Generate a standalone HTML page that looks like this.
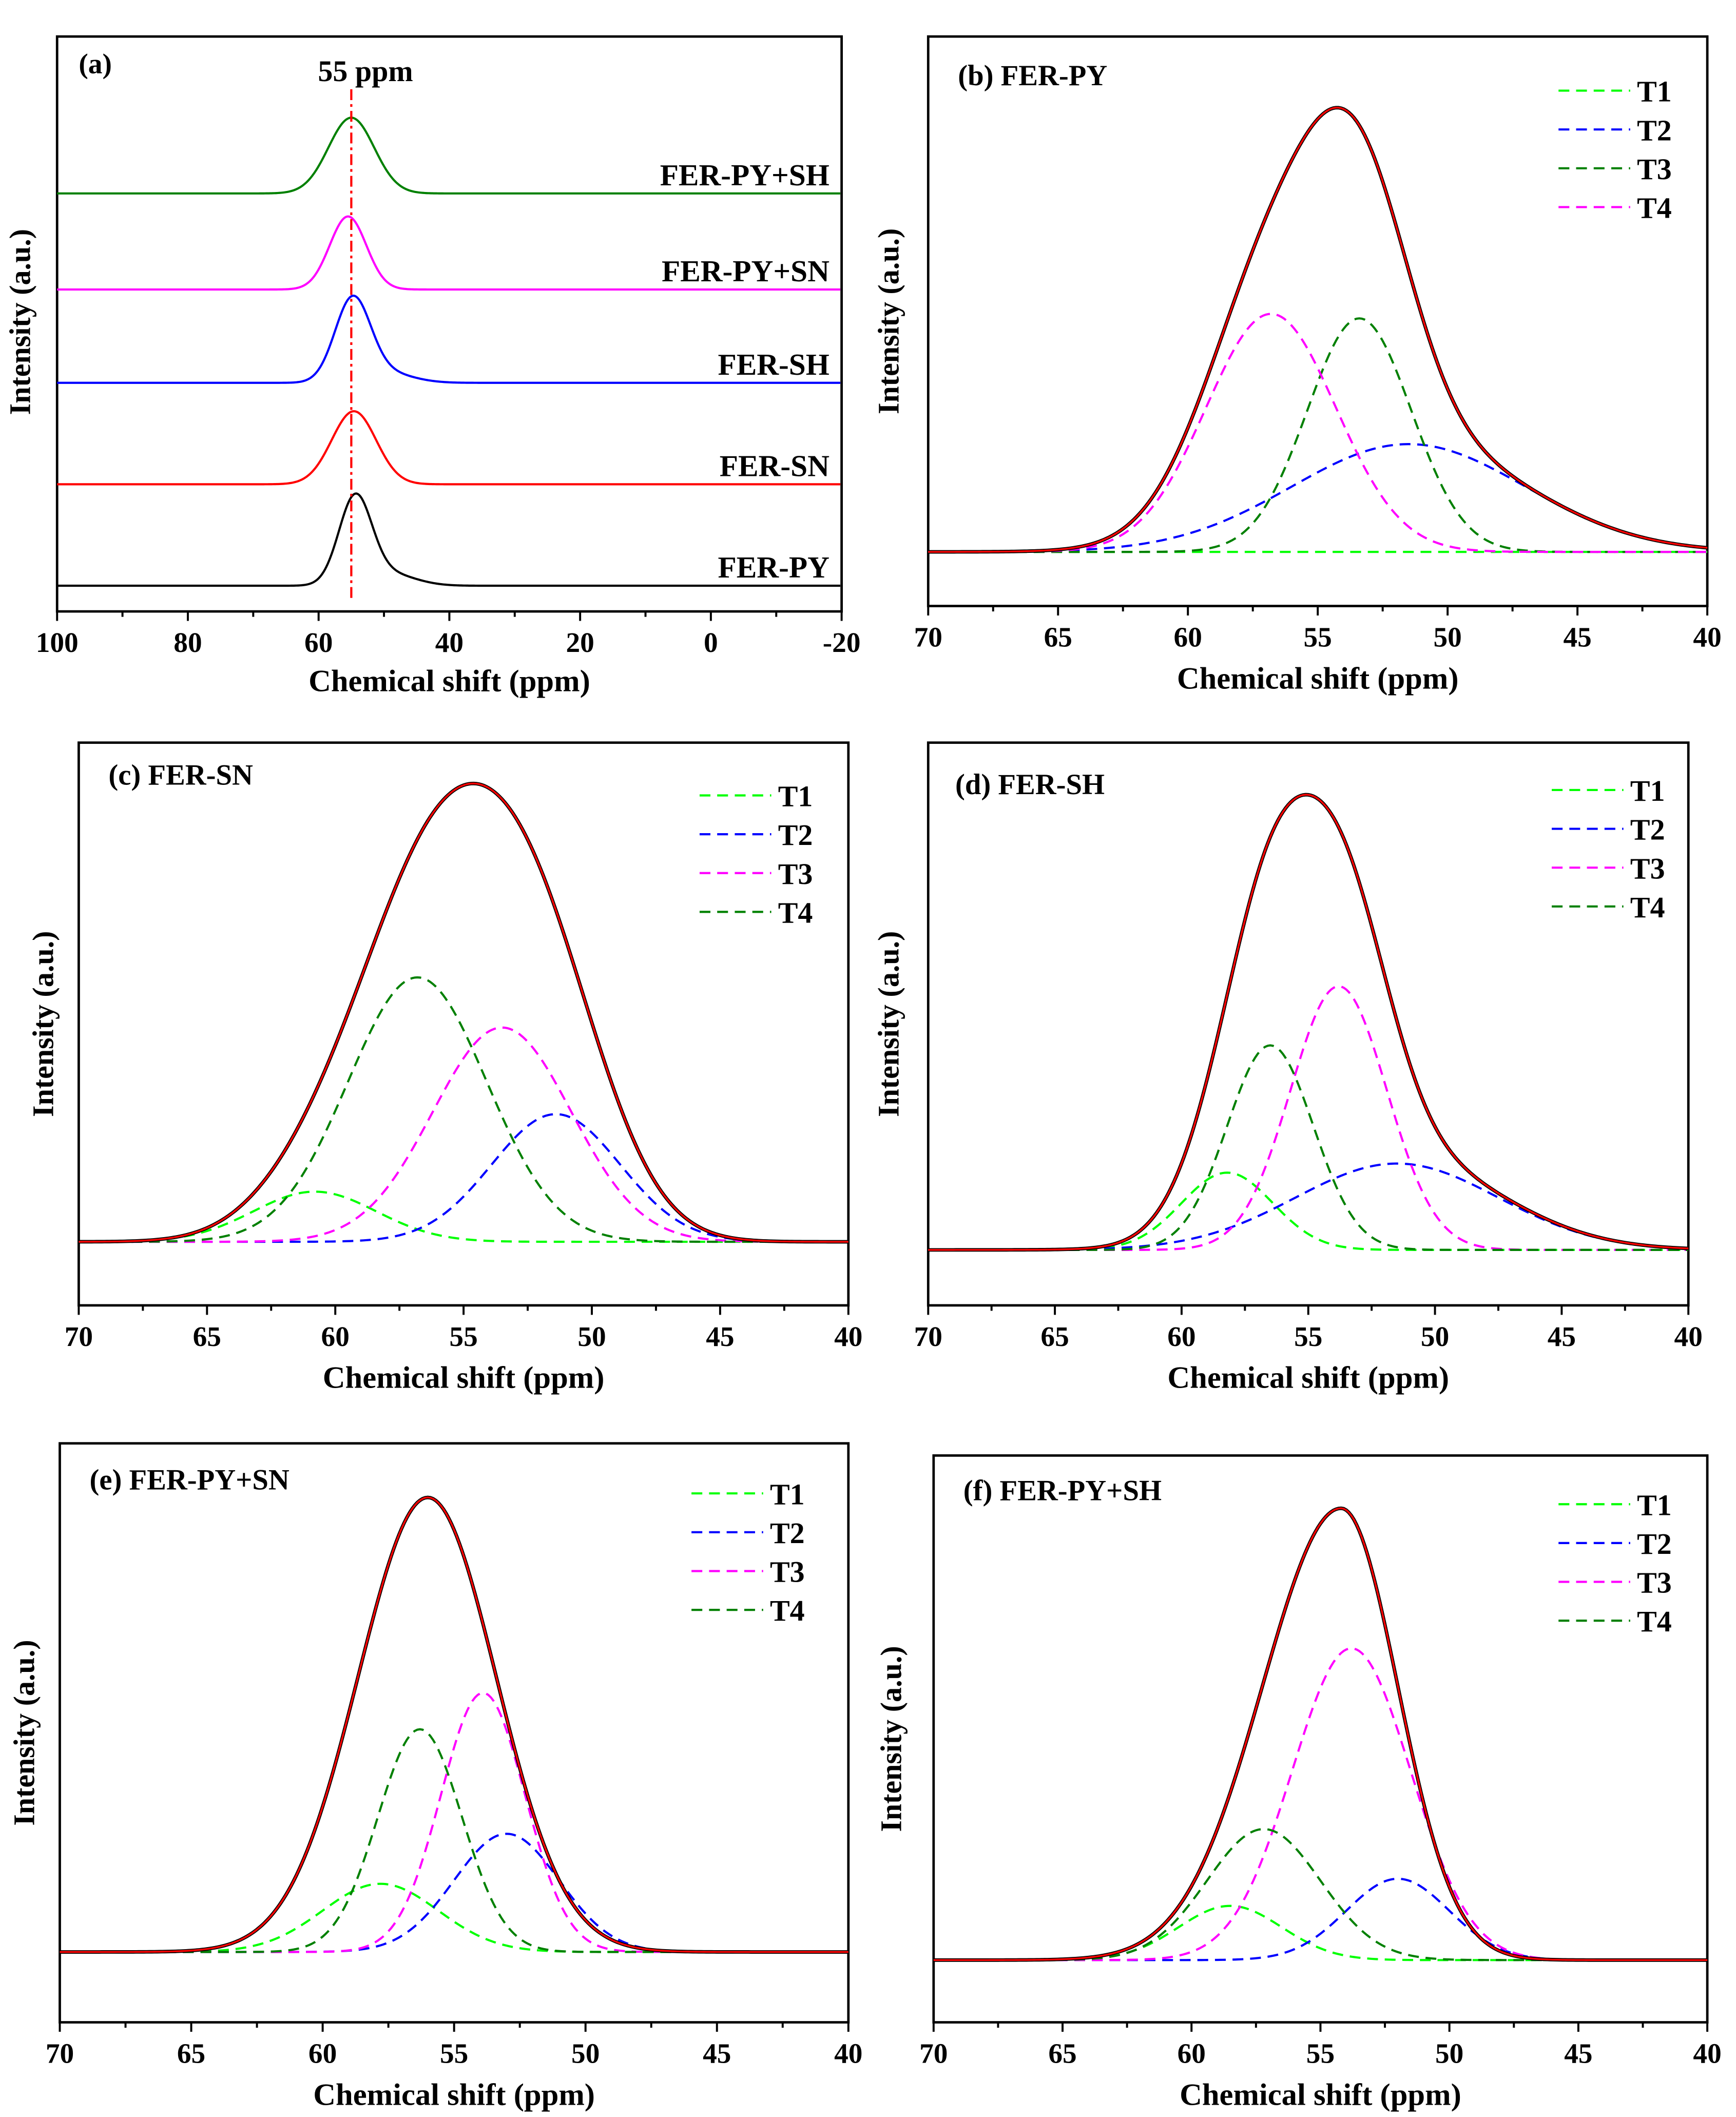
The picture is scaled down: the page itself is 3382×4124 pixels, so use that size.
<!DOCTYPE html>
<html><head><meta charset="utf-8"><style>
html,body{margin:0;padding:0;background:#fff}
svg{display:block}
text{font-family:"Liberation Serif",serif;font-weight:bold;fill:#000}
</style></head><body>
<svg id="fig" width="3382" height="4124" viewBox="0 0 1283 1565" xmlns="http://www.w3.org/2000/svg"></svg>
<script>
// ---- Panel (a) data ----
const aLabels = ["FER-PY+SH","FER-PY+SN","FER-SH","FER-SN","FER-PY"];
const aColors = ["#008000","#ff00ff","#0000ff","#ff0000","#000000"];
const aCenters = [55.0, 55.5, 54.8, 54.6, 54.4];
const aSigmas = [3.5, 2.8, 2.7, 3.4, 2.5];
const aTailAmp = [0.0, 0.0, 0.12, 0.0, 0.14];
const aBaselines = [143, 214, 283, 358, 433];
const aPeakY = [87, 160, 222, 304, 369];
const aTicks = [100, 80, 60, 40, 20, 0, -20];
// ---- Deconvolution panels: component arrays [T1,T2,T3,T4] ----
const bCenters = [60, 51.5, 53.4, 56.8];
const bHeights = [0.0, 0.24, 0.52, 0.53];
const bSigmas = [2, 4.5, 2.0, 2.5];
const cCenters = [60.8, 51.4, 53.5, 56.8];
const cHeights = [0.11, 0.28, 0.47, 0.58];
const cSigmas = [2.4, 2.5, 2.7, 2.7];
const dCenters = [58.2, 51.5, 53.8, 56.5];
const dHeights = [0.17, 0.19, 0.58, 0.45];
const dSigmas = [1.8, 4.0, 1.9, 1.7];
const eCenters = [57.8, 53.0, 53.9, 56.3];
const eHeights = [0.15, 0.26, 0.57, 0.49];
const eSigmas = [2.2, 2.0, 1.6, 1.6];
const fCenters = [58.5, 52.0, 53.8, 57.2];
const fHeights = [0.12, 0.18, 0.69, 0.29];
const fSigmas = [2.0, 2.0, 2.3, 2.2];
// total spectrum: scale on component sum (b,c,d)
const bTotalScale = [1.0];
const cTotalScale = [1.03];
const dTotalScale = [1.06];
// total spectrum: explicit asymmetric peak [center, sigmaHighPpm, sigmaLowPpm] (e,f)
const eTotalPeak = [56.0, 2.65, 2.6];
const fTotalPeak = [54.2, 3.05, 2.2];
const subTicks = [70, 65, 60, 55, 50, 45, 40];

const NS = "http://www.w3.org/2000/svg";
const svg = document.getElementById("fig");
function mk(tag, attrs, parent) {
  const e = document.createElementNS(NS, tag);
  for (const k in attrs) e.setAttribute(k, attrs[k]);
  (parent || svg).appendChild(e);
  return e;
}
function txt(s, x, y, size, anchor, parent, rot) {
  const t = mk("text", {x: x, y: y, "font-size": size, "text-anchor": anchor || "start"}, parent);
  if (rot) t.setAttribute("transform", "rotate(-90 " + x + " " + y + ")");
  t.textContent = s;
  return t;
}
function gauss(x, c, s) { return Math.exp(-(x - c) * (x - c) / (2 * s * s)); }

function frame(g, L, T, R, B, xmin, xmax, ticks, minorStep) {
  const r = mk("rect", {x: L, y: T, width: R - L, height: B - T, fill: "none", stroke: "#000", "stroke-width": 1.8}, g);
  
  
  const sx = v => L + (xmin - v) / (xmin - xmax) * (R - L);
  for (let v = xmin; v >= xmax - 1e-9; v -= minorStep) {
    const major = ticks.some(t => Math.abs(t - v) < 1e-6);
    mk("line", {x1: sx(v), x2: sx(v), y1: B, y2: B + (major ? 7 : 4), stroke: "#000", "stroke-width": 1.5}, g);
  }
  ticks.forEach(t => {
    const tl = txt(String(t), sx(t), B + 30, 21, "middle", g);
    
    
  });
  return sx;
}

function pathFrom(pts) { return "M" + pts.map(p => p[0].toFixed(2) + "," + p[1].toFixed(2)).join("L"); }

// ---- Panel (a) ----
(function () {
  const g = mk("g", {});
  
  
  const L = 42, T = 27, R = 622, B = 452;
  const sx = frame(g, L, T, R, B, 100, -20, aTicks, 10);
  aLabels.forEach((lab, i) => {
    const pts = [];
    for (let x = 100; x >= -20; x -= 0.2) {
      let y = gauss(x, aCenters[i], aSigmas[i]) + aTailAmp[i] * gauss(x, aCenters[i] - 5, 4);
      pts.push([sx(x), aBaselines[i] - y * (aBaselines[i] - aPeakY[i])]);
    }
    const p = mk("path", {d: pathFrom(pts), fill: "none", stroke: aColors[i], "stroke-width": 1.6}, g);
    
    
    const t = txt(lab, 613, aBaselines[i] - 6, 22.5, "end", g);
    
    
  });
  const ref = mk("line", {x1: sx(55), x2: sx(55), y1: 66, y2: 444, stroke: "#ff0000", "stroke-width": 1.6, "stroke-dasharray": "8,3,2,3"}, g);
  
  
  txt("55 ppm", 270, 60, 22, "middle", g);
  txt("(a)", 58, 54, 21, "start", g);
  txt("Chemical shift (ppm)", 332, 511, 23, "middle", g);
  txt("Intensity (a.u.)", 22, 238, 22, "middle", g, true);
})();

// ---- Deconvolution panels ----
const panels = [
  {id: "b", title: "(b) FER-PY", L: 686, T: 27, R: 1262, B: 448, base: 408, peak: 76, c: bCenters, h: bHeights, s: bSigmas, scale: bTotalScale,
   cols: ["#00ff00", "#0000ff", "#008000", "#ff00ff"], legX: 1152, legY: 67, ytx: 664, tx: 708, ty: 63},
  {id: "c", title: "(c) FER-SN", L: 58, T: 549, R: 627, B: 965, base: 918, peak: 581, c: cCenters, h: cHeights, s: cSigmas, scale: cTotalScale,
   cols: ["#00ff00", "#0000ff", "#ff00ff", "#008000"], legX: 517, legY: 588, ytx: 39, tx: 80, ty: 580},
  {id: "d", title: "(d) FER-SH", L: 686, T: 549, R: 1248, B: 965, base: 924, peak: 588, c: dCenters, h: dHeights, s: dSigmas, scale: dTotalScale,
   cols: ["#00ff00", "#0000ff", "#ff00ff", "#008000"], legX: 1147, legY: 584, ytx: 664, tx: 706, ty: 587},
  {id: "e", title: "(e) FER-PY+SN", L: 44, T: 1067, R: 627, B: 1495, base: 1443, peak: 1107, c: eCenters, h: eHeights, s: eSigmas, total: eTotalPeak,
   cols: ["#00ff00", "#0000ff", "#ff00ff", "#008000"], legX: 511, legY: 1104, ytx: 25, tx: 66, ty: 1101},
  {id: "f", title: "(f) FER-PY+SH", L: 690, T: 1076, R: 1262, B: 1495, base: 1449, peak: 1115, c: fCenters, h: fHeights, s: fSigmas, total: fTotalPeak,
   cols: ["#00ff00", "#0000ff", "#ff00ff", "#008000"], legX: 1152, legY: 1112, ytx: 666, tx: 712, ty: 1109}
];
panels.forEach(P => {
  const g = mk("g", {});
  
  
  const sx = frame(g, P.L, P.T, P.R, P.B, 70, 40, subTicks, 2.5);
  const H = P.base - P.peak;
  const sy = v => P.base - v * H;
  for (let k = 0; k < 4; k++) {
    const pts = [];
    for (let x = 70; x >= 40 - 1e-9; x -= 0.1) pts.push([sx(x), sy(P.h[k] * gauss(x, P.c[k], P.s[k]))]);
    const p = mk("path", {d: pathFrom(pts), fill: "none", stroke: P.cols[k], "stroke-width": 1.6, "stroke-dasharray": "8,5"}, g);
    
    
  }
  const pts = [];
  for (let x = 70; x >= 40 - 1e-9; x -= 0.1) {
    let v = 0;
    if (P.total) {
      const sg = x >= P.total[0] ? P.total[1] : P.total[2];
      v = gauss(x, P.total[0], sg);
    } else {
      for (let k = 0; k < 4; k++) v += P.h[k] * gauss(x, P.c[k], P.s[k]);
      v *= P.scale[0];
    }
    pts.push([sx(x), sy(v)]);
  }
  const exp = mk("path", {d: pathFrom(pts), fill: "none", stroke: "#000", "stroke-width": 2.6}, g);
  
  
  const fit = mk("path", {d: pathFrom(pts), fill: "none", stroke: "#ff0000", "stroke-width": 1.3}, g);
  
  
  for (let k = 0; k < 4; k++) {
    const y = P.legY + k * 28.7;
    const ln = mk("line", {x1: P.legX, x2: P.legX + 53, y1: y, y2: y, stroke: P.cols[k], "stroke-width": 1.6, "stroke-dasharray": "8,5"}, g);
    
    
    const t = txt("T" + (k + 1), P.legX + 58, y + 8, 22, "start", g);
    
    
  }
  txt(P.title, P.tx, P.ty, 21.5, "start", g);
  txt("Chemical shift (ppm)", (P.L + P.R) / 2, P.B + 61, 23, "middle", g);
  txt("Intensity (a.u.)", P.ytx, (P.T + P.B) / 2, 22, "middle", g, true);
});
</script>
</body></html>
